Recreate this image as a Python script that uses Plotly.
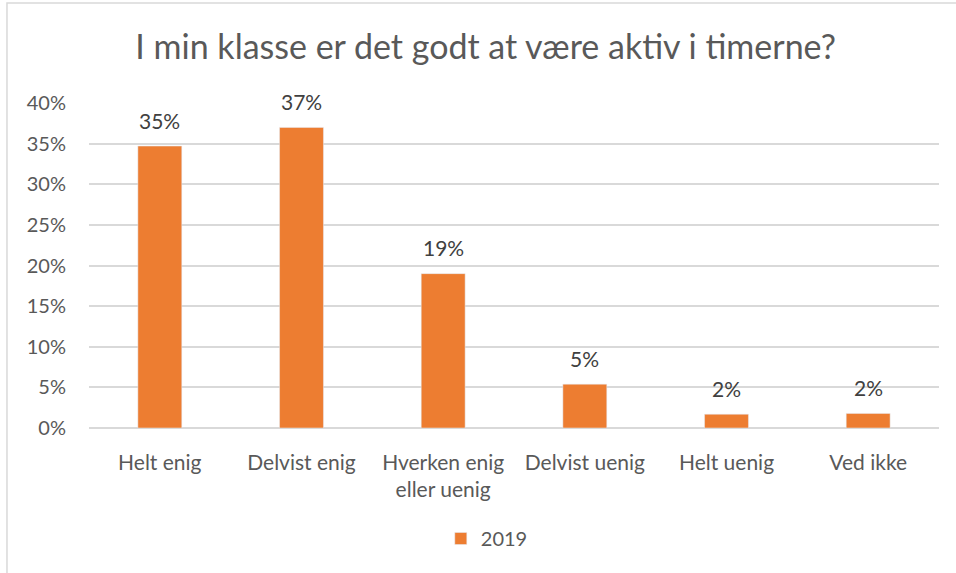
import plotly.graph_objects as go

# Survey answers (share of pupils)
categories = ["Helt enig", "Delvist enig", "Hverken enig<br>eller uenig",
              "Delvist uenig", "Helt uenig", "Ved ikke"]
values_2019 = [0.347, 0.370, 0.190, 0.054, 0.017, 0.018]
series_name = "2019"
tick_vals = [0, 0.05, 0.10, 0.15, 0.20, 0.25, 0.30, 0.35, 0.40]
tick_text = ["0%", "5%", "10%", "15%", "20%", "25%", "30%", "35%", "40%"]

font_family = "Lato, Open Sans, sans-serif"

fig = go.Figure()
fig.add_trace(go.Bar(
    x=categories, y=values_2019, name=series_name,
    marker=dict(color="#ED7D31"),
    hovertemplate="%{x}: %{y:.0%}<extra></extra>",
))

# data labels above each bar
for cat, val in zip(categories, values_2019):
    fig.add_annotation(
        x=cat, y=val, text=f"{val:.0%}", showarrow=False,
        yshift=26, font=dict(size=21, color="#404040", family=font_family),
    )

# light grey frame around the chart area (as in the Excel export)
fig.add_shape(type="rect", xref="paper", yref="paper",
              x0=-0.0965, x1=1.2, y0=-0.6, y1=1.308,
              line=dict(color="#D9D9D9", width=1.5), fillcolor="rgba(0,0,0,0)", layer="below")

fig.update_layout(
    width=956, height=573,
    margin=dict(l=89, r=17, t=103, b=145),
    paper_bgcolor="white", plot_bgcolor="white",
    title=dict(text="I min klasse er det godt at være aktiv i timerne?",
               x=0.508, xref="container", xanchor="center", y=0.917, yanchor="middle",
               font=dict(size=34, color="#595959", family=font_family)),
    bargap=0.69,
    showlegend=True,
    legend=dict(orientation="h", x=0.468, xanchor="center", y=-0.34, yanchor="middle",
                font=dict(size=20, color="#595959", family=font_family)),
    font=dict(family=font_family),
)
fig.update_yaxes(range=[0, 0.40], tickvals=tick_vals, ticktext=tick_text,
                 showgrid=True, gridcolor="#D9D9D9", gridwidth=1.5,
                 zeroline=True, zerolinecolor="#D9D9D9", zerolinewidth=1.5,
                 tickfont=dict(size=20, color="#595959", family=font_family),
                 ticks="", ticklabelstandoff=22)
fig.update_xaxes(showline=False, ticks="", ticklabelstandoff=20,
                 tickfont=dict(size=21, color="#595959", family=font_family))

fig.write_html("out.html", config={"displayModeBar": False},
               post_script="document.body.style.margin='0';")
